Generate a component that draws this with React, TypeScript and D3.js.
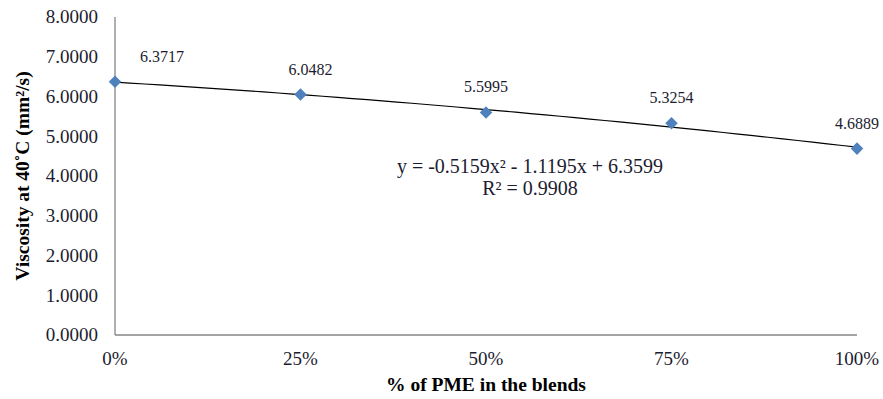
import React from 'react'
import * as d3 from 'd3'

// blend share of PME (fraction) and measured viscosity
const blends = [0, 0.25, 0.5, 0.75, 1]
const viscosity = [6.3717, 6.0482, 5.5995, 5.3254, 4.6889]
const xTickLabels = ['0%', '25%', '50%', '75%', '100%']
const yTicks = [0, 1, 2, 3, 4, 5, 6, 7, 8]
// polynomial trendline y = a x^2 + b x + c
const trendCoef = [-0.5159, -1.1195, 6.3599]
const equationLines = ['y = -0.5159x² - 1.1195x + 6.3599', 'R² = 0.9908']

const width = 883
const height = 399
const margin = { top: 17, right: 26, bottom: 64, left: 115 }
const font = '"Liberation Serif", "Times New Roman", serif'
const ink = '#1c1c30'

const xScale = d3.scaleLinear().domain([0, 1]).range([margin.left, width - margin.right])
const yScale = d3.scaleLinear().domain([0, 8]).range([height - margin.bottom, margin.top])

const trend = d3.range(0, 1.0001, 0.02).map(x => [x, trendCoef[0] * x * x + trendCoef[1] * x + trendCoef[2]])
const trendLine = d3.line<number[]>()
  .x(d => xScale(d[0]))
  .y(d => yScale(d[1]))

const diamond = d3.symbol().type(d3.symbolDiamond2).size(100)

export default function App() {
  const x0 = xScale(0)
  const y0 = yScale(0)
  return (
    <svg width={width} height={height} style={{ position: 'absolute', left: 0, top: 0 }} fontFamily={font}>
      <rect width={width} height={height} fill='#fff' />
      {yTicks.map(t => (
        <text key={t} x={98} y={yScale(t)} dy='0.33em' textAnchor='end' fontSize={19} fill={ink}>
          {t.toFixed(4)}
        </text>
      ))}
      {blends.map((b, i) => (
        <text key={b} x={xScale(b)} y={y0 + 30} textAnchor='middle' fontSize={19} fill={ink}>
          {xTickLabels[i]}
        </text>
      ))}
      <line x1={x0} x2={x0} y1={margin.top} y2={y0} stroke='#868686' strokeWidth={1.3} />
      <line x1={x0} x2={xScale(1)} y1={y0} y2={y0} stroke='#868686' strokeWidth={1.3} />
      <path d={trendLine(trend) || ''} fill='none' stroke='#000' strokeWidth={1.2} />
      {blends.map((b, i) => (
        <path key={b} d={diamond() || ''} transform={`translate(${xScale(b)},${yScale(viscosity[i])})`} fill='#4F81BD' />
      ))}
      {blends.map((b, i) => (
        <text key={b} x={xScale(b) + (i === 0 ? 47 : i === 1 ? 10 : 0)} y={yScale(viscosity[i]) - 20} textAnchor='middle' fontSize={16} fill={ink}>
          {viscosity[i].toFixed(4)}
        </text>
      ))}
      {equationLines.map((l, i) => (
        <text key={l} x={530} y={173 + i * 22} textAnchor='middle' fontSize={20} fill={ink}>
          {l}
        </text>
      ))}
      <text transform={`translate(29,176) rotate(-90)`} textAnchor='middle' fontSize={19.5} fontWeight='bold' fill='#000'>
        Viscosity at 40˚C (mm²/s)
      </text>
      <text x={(x0 + xScale(1)) / 2} y={391} textAnchor='middle' fontSize={19.5} fontWeight='bold' fill='#000'>
        % of PME in the blends
      </text>
    </svg>
  )
}
